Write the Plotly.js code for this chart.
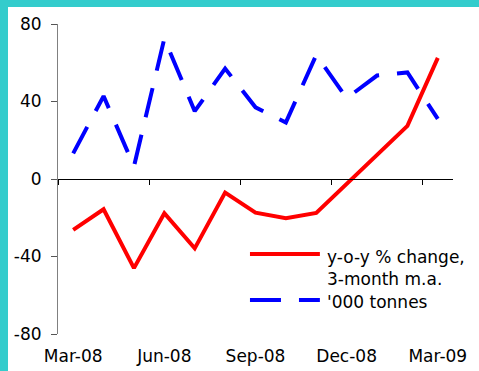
<!DOCTYPE html>
<html>
<head>
<meta charset="utf-8">
<script src="https://cdn.plot.ly/plotly-3.0.1.min.js"></script>
<style>
  html, body { margin: 0; padding: 0; background: #33cccc; width: 479px; height: 371px; overflow: hidden; }
  #chart { position: absolute; left: 8px; top: 7px; width: 471px; height: 364px; background: #ffffff; }
</style>
</head>
<body>
<div id="chart"></div>
<script>
// ---- data ----
const months = ['Mar-08','Apr-08','May-08','Jun-08','Jul-08','Aug-08','Sep-08','Oct-08','Nov-08','Dec-08','Jan-09','Feb-09','Mar-09'];
const yoyChange = [-26.3, -15.6, -46, -17.7, -35.8, -7, -17.4, -20.3, -17.5, -2.5, 12.5, 27.4, 62.5];
const tonnes = [13.2, 42.8, 6.5, 72.5, 35, 57, 37, 29.2, 64, 41.7, 53.4, 55, 31];
const xTickLabels = ['Mar-08','Jun-08','Sep-08','Dec-08','Mar-09'];
const yTickVals = [-80, -40, 0, 40, 80];
const yTickText = ['-80', '-40', '0', '40', '80'];
const seriesNames = ['y-o-y % change,<br>3-month m.a.', "'000 tonnes"];

const xIdx = months.map((m, i) => i);
const xTickVals = xTickLabels.map(l => months.indexOf(l));
const boundaryTicks = xTickVals.map(v => v - 0.5);

const font = { family: 'DejaVu Sans, Verdana, sans-serif', size: 17, color: '#000000' };

const traces = [
  { x: xIdx, y: tonnes, type: 'scatter', mode: 'lines', name: seriesNames[1], xaxis: 'x2',
    line: { color: '#0000ff', width: 4, dash: '30px,18px' }, hoverinfo: 'skip' },
  { x: xIdx, y: yoyChange, type: 'scatter', mode: 'lines', name: seriesNames[0],
    line: { color: '#ff0000', width: 4 }, hoverinfo: 'skip' }
];

const layout = {
  width: 471, height: 364,
  margin: { l: 50, r: 26, t: 17, b: 37, pad: 0 },
  paper_bgcolor: '#ffffff', plot_bgcolor: '#ffffff',
  showlegend: false,
  font: font,
  xaxis: {
    range: [-0.5, 12.5], showgrid: false, zeroline: false, showline: false,
    tickvals: xTickVals, ticktext: xTickLabels, ticks: '', ticklabelstandoff: 10,
    tickfont: font, fixedrange: true
  },
  xaxis2: {
    overlaying: 'x', anchor: 'free', position: 0.5, side: 'bottom',
    range: [-0.5, 12.5], showgrid: false, zeroline: false,
    showline: true, linecolor: '#000000', linewidth: 1,
    tickvals: boundaryTicks, ticks: 'outside', ticklen: 5, tickcolor: '#000000', tickwidth: 1,
    showticklabels: false, fixedrange: true
  },
  yaxis: {
    range: [-80, 80], tickvals: yTickVals, ticktext: yTickText,
    showgrid: false, zeroline: false, showline: true, linecolor: '#808080', linewidth: 1,
    ticks: 'outside', ticklen: 6, tickcolor: '#555555', tickwidth: 1,
    ticklabelstandoff: 6, tickfont: font, fixedrange: true
  },
  shapes: [
    { type: 'line', xref: 'paper', yref: 'paper', x0: 0.486, x1: 0.663, y0: 0.258, y1: 0.258,
      line: { color: '#ff0000', width: 4 } },
    { type: 'line', xref: 'paper', yref: 'paper', x0: 0.486, x1: 0.663, y0: 0.110, y1: 0.110,
      line: { color: '#0000ff', width: 4, dash: '31px,18px' } }
  ],
  annotations: [
    { xref: 'paper', yref: 'paper', x: 0.676, y: 0.213, xanchor: 'left', yanchor: 'middle',
      text: seriesNames[0], showarrow: false, align: 'left', font: font },
    { xref: 'paper', yref: 'paper', x: 0.676, y: 0.103, xanchor: 'left', yanchor: 'middle',
      text: seriesNames[1], showarrow: false, align: 'left', font: font }
  ]
};

Plotly.newPlot('chart', traces, layout, { displayModeBar: false, staticPlot: true });
</script>
</body>
</html>
